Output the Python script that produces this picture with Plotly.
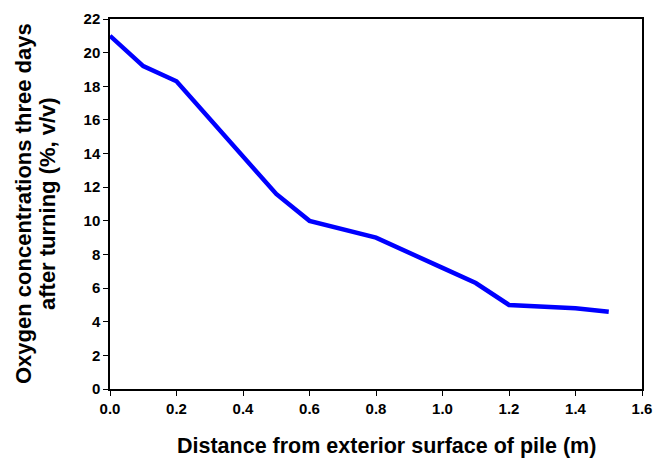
import plotly.graph_objects as go

distance_m = [0.0, 0.1, 0.2, 0.3, 0.4, 0.5, 0.6, 0.8, 1.0, 1.1, 1.2, 1.4, 1.5]
oxygen_pct = [21.0, 19.2, 18.3, 16.1, 13.8, 11.6, 10.0, 9.0, 7.2, 6.3, 5.0, 4.8, 4.6]

x_ticks = [0.0, 0.2, 0.4, 0.6, 0.8, 1.0, 1.2, 1.4, 1.6]
y_ticks = list(range(0, 23, 2))

x_title = "Distance from exterior surface of pile (m)"
y_title_lines = ["Oxygen concentrations three days", "after turning (%, v/v)"]

font_family = "Liberation Sans, Arial, sans-serif"

fig = go.Figure()
fig.add_trace(go.Scatter(
    x=distance_m, y=oxygen_pct, mode="lines",
    line=dict(color="#0000FF", width=4.5),
    showlegend=False, cliponaxis=False,
))

fig.update_layout(
    width=654, height=461, autosize=False,
    margin=dict(l=110, r=12, t=19, b=72, autoexpand=False),
    paper_bgcolor="white", plot_bgcolor="white",
    font=dict(family=font_family, color="black"),
)
fig.update_xaxes(
    range=[0, 1.6], tickvals=x_ticks, automargin=False,
    ticktext=[f"<b>{v:.1f}</b>" for v in x_ticks],
    showline=True, linecolor="black", linewidth=1.5, mirror=True,
    ticks="outside", ticklen=5, tickwidth=1, tickcolor="black",
    showgrid=False, zeroline=False,
    tickfont=dict(size=15, family=font_family, color="black"),
)
fig.update_yaxes(
    range=[0, 22], tickvals=y_ticks, automargin=False,
    ticktext=[f"<b>{v}</b>" for v in y_ticks],
    showline=True, linecolor="black", linewidth=1.5, mirror=True,
    ticks="outside", ticklen=5, tickwidth=1, tickcolor="black",
    showgrid=False, zeroline=False,
    tickfont=dict(size=15, family=font_family, color="black"),
)

# Axis titles as annotations for precise placement
fig.add_annotation(
    text=f"<b>{x_title}</b>", xref="paper", yref="paper",
    x=0.519, y=0, xanchor="center", yanchor="middle", yshift=-57,
    showarrow=False, font=dict(size=21.5, family=font_family, color="black"),
)
for i, line in enumerate(y_title_lines):
    fig.add_annotation(
        text=f"<b>{line}</b>", xref="paper", yref="paper",
        x=0, y=0.5, xanchor="center", yanchor="middle",
        xshift=-87 + 24 * i, yshift=0, textangle=-90,
        showarrow=False, font=dict(size=22, family=font_family, color="black"),
    )

fig.write_html("out.html")
